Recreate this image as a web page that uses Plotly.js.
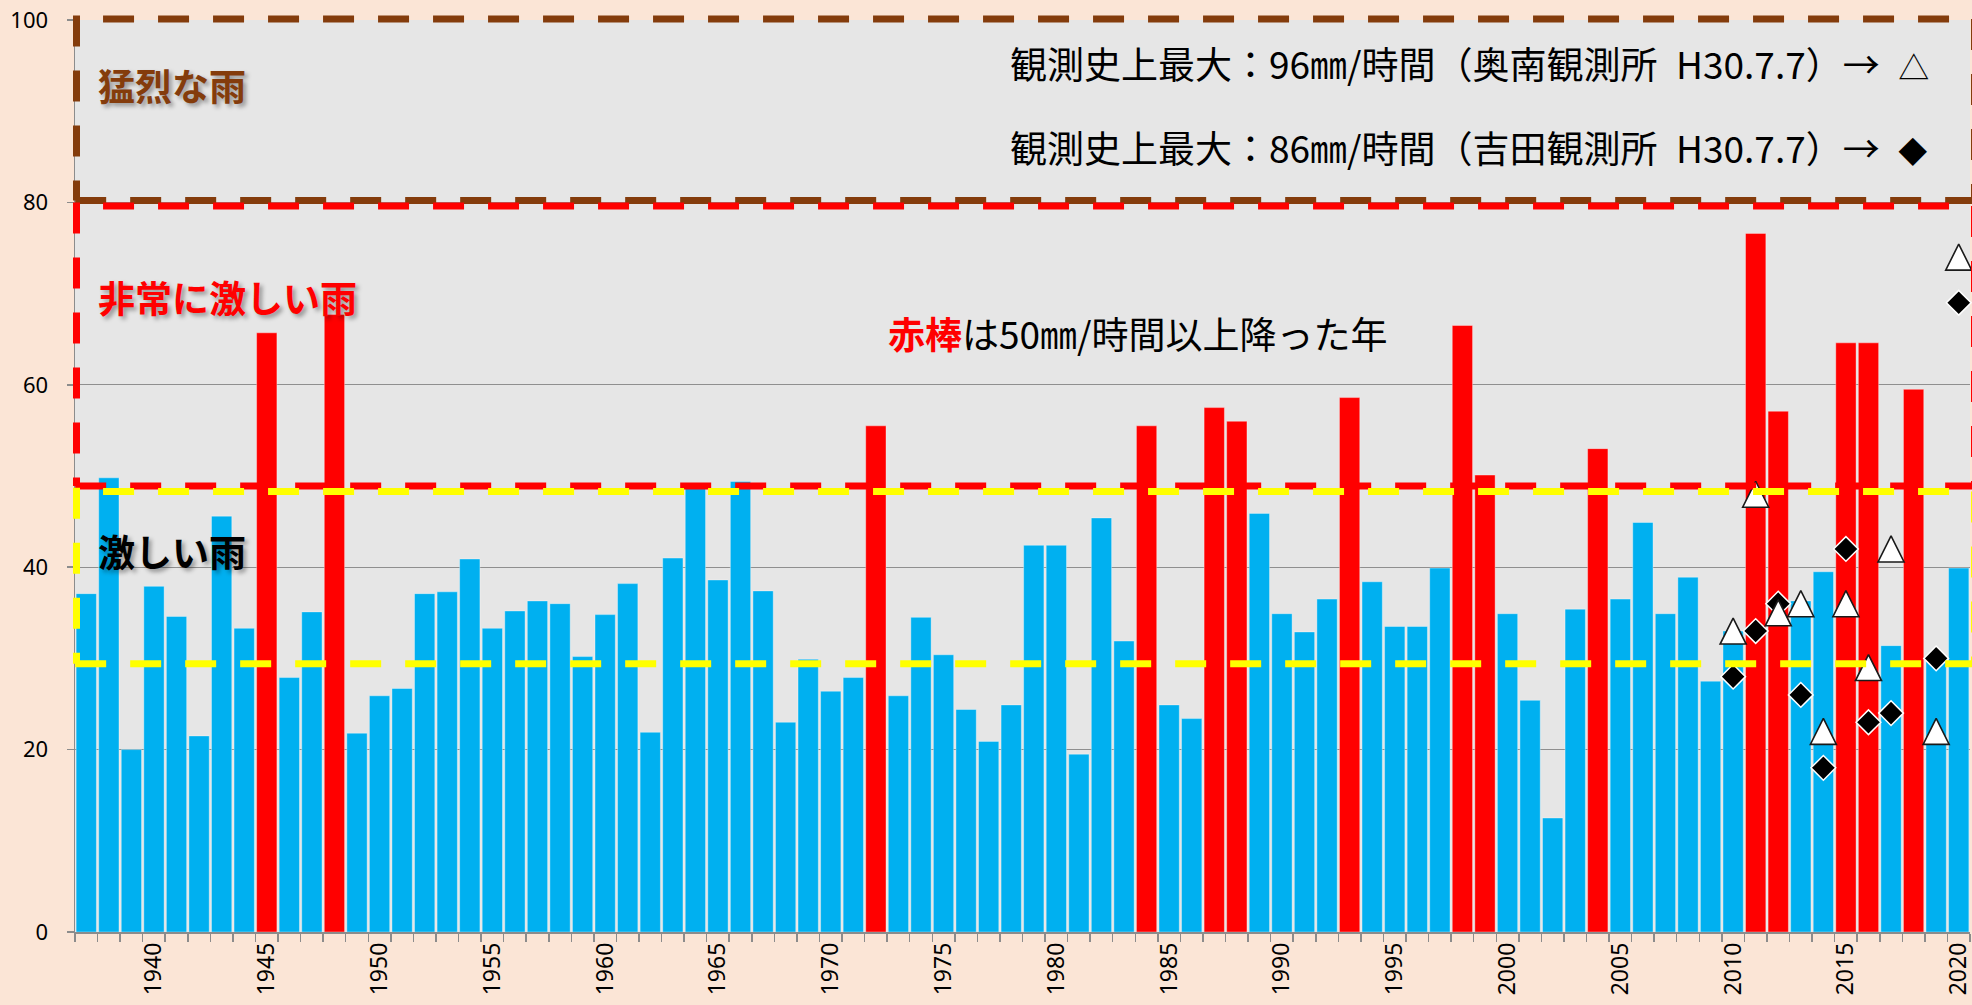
<!DOCTYPE html>
<html>
<head>
<meta charset="utf-8">
<script src="https://cdn.plot.ly/plotly-3.0.1.min.js"></script>
<style>
html,body{margin:0;padding:0;background:#FBE5D6;}
#chart{width:1972px;height:1005px;}
</style>
</head>
<body>
<div id="chart"></div>
<script>
// ---- data ----
const years = [1937,1938,1939,1940,1941,1942,1943,1944,1945,1946,1947,1948,1949,1950,
  1951,1952,1953,1954,1955,1956,1957,1958,1959,1960,1961,1962,1963,1964,1965,1966,
  1967,1968,1969,1970,1971,1972,1973,1974,1975,1976,1977,1978,1979,1980,1981,1982,
  1983,1984,1985,1986,1987,1988,1989,1990,1991,1992,1993,1994,1995,1996,1997,1998,
  1999,2000,2001,2002,2003,2004,2005,2006,2007,2008,2009,2010,2011,2012,2013,2014,
  2015,2016,2017,2018,2019,2020];
const maxHourlyRain = [37.1,49.8,20.0,37.9,34.6,21.5,45.6,33.3,65.7,27.9,35.1,67.7,21.8,25.9,
  26.7,37.1,37.3,40.9,33.3,35.2,36.3,36.0,30.2,34.8,38.2,21.9,41.0,48.7,38.6,49.4,
  37.4,23.0,29.9,26.4,27.9,55.5,25.9,34.5,30.4,24.4,20.9,24.9,42.4,42.4,19.5,45.4,
  31.9,55.5,24.9,23.4,57.5,56.0,45.9,34.9,32.9,36.5,58.6,38.4,33.5,33.5,39.9,66.5,
  50.1,34.9,25.4,12.5,35.4,53.0,36.5,44.9,34.9,38.9,27.5,33.0,76.6,57.1,36.3,39.5,
  64.6,64.6,31.4,59.5,29.8,39.9];
const redThreshold = 50;

const okunanYears = [2010,2011,2012,2013,2014,2015,2016,2017,2019,2020];
const okunanRain  = [33,48,35,36,22,36,29,42,22,74];
const yoshidaYears = [2010,2011,2012,2013,2014,2015,2016,2017,2019,2020];
const yoshidaRain  = [28,33,36,26,18,42,23,24,30,69];

const recordStations = ['奥南観測所','吉田観測所'];
const recordValues = [96, 86];
const recordDate = 'H30.7.7';
const recordSymbols = ['△','◆'];

const xTickYears = [1940,1945,1950,1955,1960,1965,1970,1975,1980,1985,1990,1995,2000,2005,2010,2015,2020];
const yTicks = [0,20,40,60,80,100];

// rain-intensity bands as drawn in the picture
const bandNames = ['猛烈な雨','非常に激しい雨','激しい雨'];
const bandLow  = [80.2, 48.9, 29.4];
const bandHigh = [100.1, 79.6, 48.3];

// ---- styles ----
const BLUE='#00B0F0', RED='#FF0000', BROWN='#843C0C', YELLOW='#FFFF00';
const bandColors=[BROWN, RED, YELLOW];
const bandTextColors=[BROWN, RED, '#000000'];
const W=1972, H=1005, ML=75, MR=2, MT=20, MB=73;
const plotW=W-ML-MR, plotH=H-MT-MB;
const yRange=[0,100];
const pxPerUnit = plotH/(yRange[1]-yRange[0]);
const triSize=26;
const triShift = (triSize/2)/pxPerUnit; // arrow-up anchors at its tip
const px2x = X => (X-ML)/plotW;
const px2y = Y => (H-MB-Y)/plotH;
const yDom = v => (v-yRange[0])/(yRange[1]-yRange[0]);
const CJK = '"Noto Sans CJK JP", "Noto Sans", sans-serif';
const SP = '\u2002';

const barColors = maxHourlyRain.map(v => v >= redThreshold ? RED : BLUE);

const traces = [
  {type:'bar', x:years, y:maxHourlyRain, marker:{color:barColors, line:{color:'rgba(255,255,255,0.45)', width:0.8}},
   hoverinfo:'x+y'},
  {type:'scatter', mode:'markers', x:yoshidaYears, y:yoshidaRain, cliponaxis:false,
   marker:{symbol:'diamond', size:19, color:'#000000', line:{color:'#FFFFFF', width:1.5}}},
  {type:'scatter', mode:'markers', x:okunanYears, y:okunanRain, yaxis:'y2', cliponaxis:false,
   marker:{symbol:'arrow-up', size:triSize, color:'#FFFFFF', line:{color:'#1a1a1a', width:1.6}}}
];

const shapes = [];
const dash = '31px,24px';
bandNames.forEach((n,i)=>{
  const c = bandColors[i];
  const lw = 7;
  const x0 = px2x(76.5), x1 = px2x(1974.5);
  shapes.push({type:'line', xref:'paper', yref:'y domain', x0:px2x(104)-0.0005, x1:x1, y0:yDom(bandHigh[i]), y1:yDom(bandHigh[i]), line:{color:c,width:lw,dash:dash}, layer:'above'});
  shapes.push({type:'line', xref:'paper', yref:'y domain', x0:x0-0.0007, x1:x1, y0:yDom(bandLow[i]), y1:yDom(bandLow[i]), line:{color:c,width:lw,dash:dash}, layer:'above'});
  shapes.push({type:'line', xref:'paper', yref:'y domain', x0:x0, x1:x0, y0:yDom(bandHigh[i])+0.004, y1:yDom(bandLow[i]), line:{color:c,width:lw,dash:dash}, layer:'above'});
  shapes.push({type:'line', xref:'paper', yref:'y domain', x0:x1, x1:x1, y0:yDom(bandHigh[i]), y1:yDom(bandLow[i]), line:{color:c,width:lw,dash:dash}, layer:'above'});
});

const bandLabelY = [85, 297, 551];
const shadow = '3px 3px 4px rgba(0,0,0,0.35)';
const annotations = bandNames.map((n,i)=>({
  xref:'paper', yref:'paper', x:px2x(96), y:px2y(bandLabelY[i]), xanchor:'left', yanchor:'middle',
  text:'<b>'+n+'</b>', showarrow:false,
  font:{family:CJK, size:37, color:bandTextColors[i], shadow:shadow}
}));
annotations.push({
  xref:'paper', yref:'paper', x:px2x(886), y:px2y(333), xanchor:'left', yanchor:'middle', showarrow:false,
  text:'<span style="color:#FF0000"><b>赤棒</b></span>は'+redThreshold+'㎜/時間以上降った年',
  font:{family:CJK, size:37, color:'#000000'}
});
const legendY=[63,147];
const symbolSize=[31,29];
recordStations.forEach((s,i)=>{
  annotations.push({
    xref:'paper', yref:'paper', x:px2x(1008), y:px2y(legendY[i]), xanchor:'left', yanchor:'middle', showarrow:false,
    text:'観測史上最大：'+recordValues[i]+'㎜/時間（'+s+SP+recordDate+'）→'+SP+
         '<span style="font-size:'+symbolSize[i]+'px">'+recordSymbols[i]+'</span>',
    font:{family:CJK, size:37, color:'#000000'}
  });
});

const layout = {
  width:W, height:H, autosize:false,
  paper_bgcolor:'#FBE5D6', plot_bgcolor:'#E6E6E6',
  margin:{l:ML, r:MR, t:MT, b:MB, pad:0},
  showlegend:false, bargap:0.1,
  xaxis:{range:[1936.5,2020.5], tickvals:xTickYears, ticktext:xTickYears.map(String), tickangle:-90,
    ticks:'', showgrid:false, zeroline:false, showline:true, linecolor:'#8c8c8c', linewidth:1.5,
    tickfont:{family:'"Noto Sans", sans-serif', size:23, color:'#000000'}, ticklabelstandoff:0,
    ticklabeloverflow:'allow',
    minor:{tick0:1936.5, dtick:1, ticks:'outside', ticklen:8, tickcolor:'#8c8c8c', tickwidth:1.5, showgrid:false}},
  yaxis:{range:yRange, tickvals:yTicks, ticks:'outside', ticklen:7, tickcolor:'#8c8c8c', tickwidth:1.5,
    showgrid:true, gridcolor:'#8f8f8f', gridwidth:1.3, zeroline:false, showline:true, linecolor:'#8c8c8c', linewidth:1.5,
    tickfont:{family:'"Noto Sans", sans-serif', size:22, color:'#000000'}, ticklabelstandoff:14},
  yaxis2:{overlaying:'y', range:[yRange[0]-triShift, yRange[1]-triShift], visible:false, showgrid:false, zeroline:false},
  shapes:shapes, annotations:annotations
};

Plotly.newPlot('chart', traces, layout, {displayModeBar:false, staticPlot:true});
</script>
</body>
</html>
